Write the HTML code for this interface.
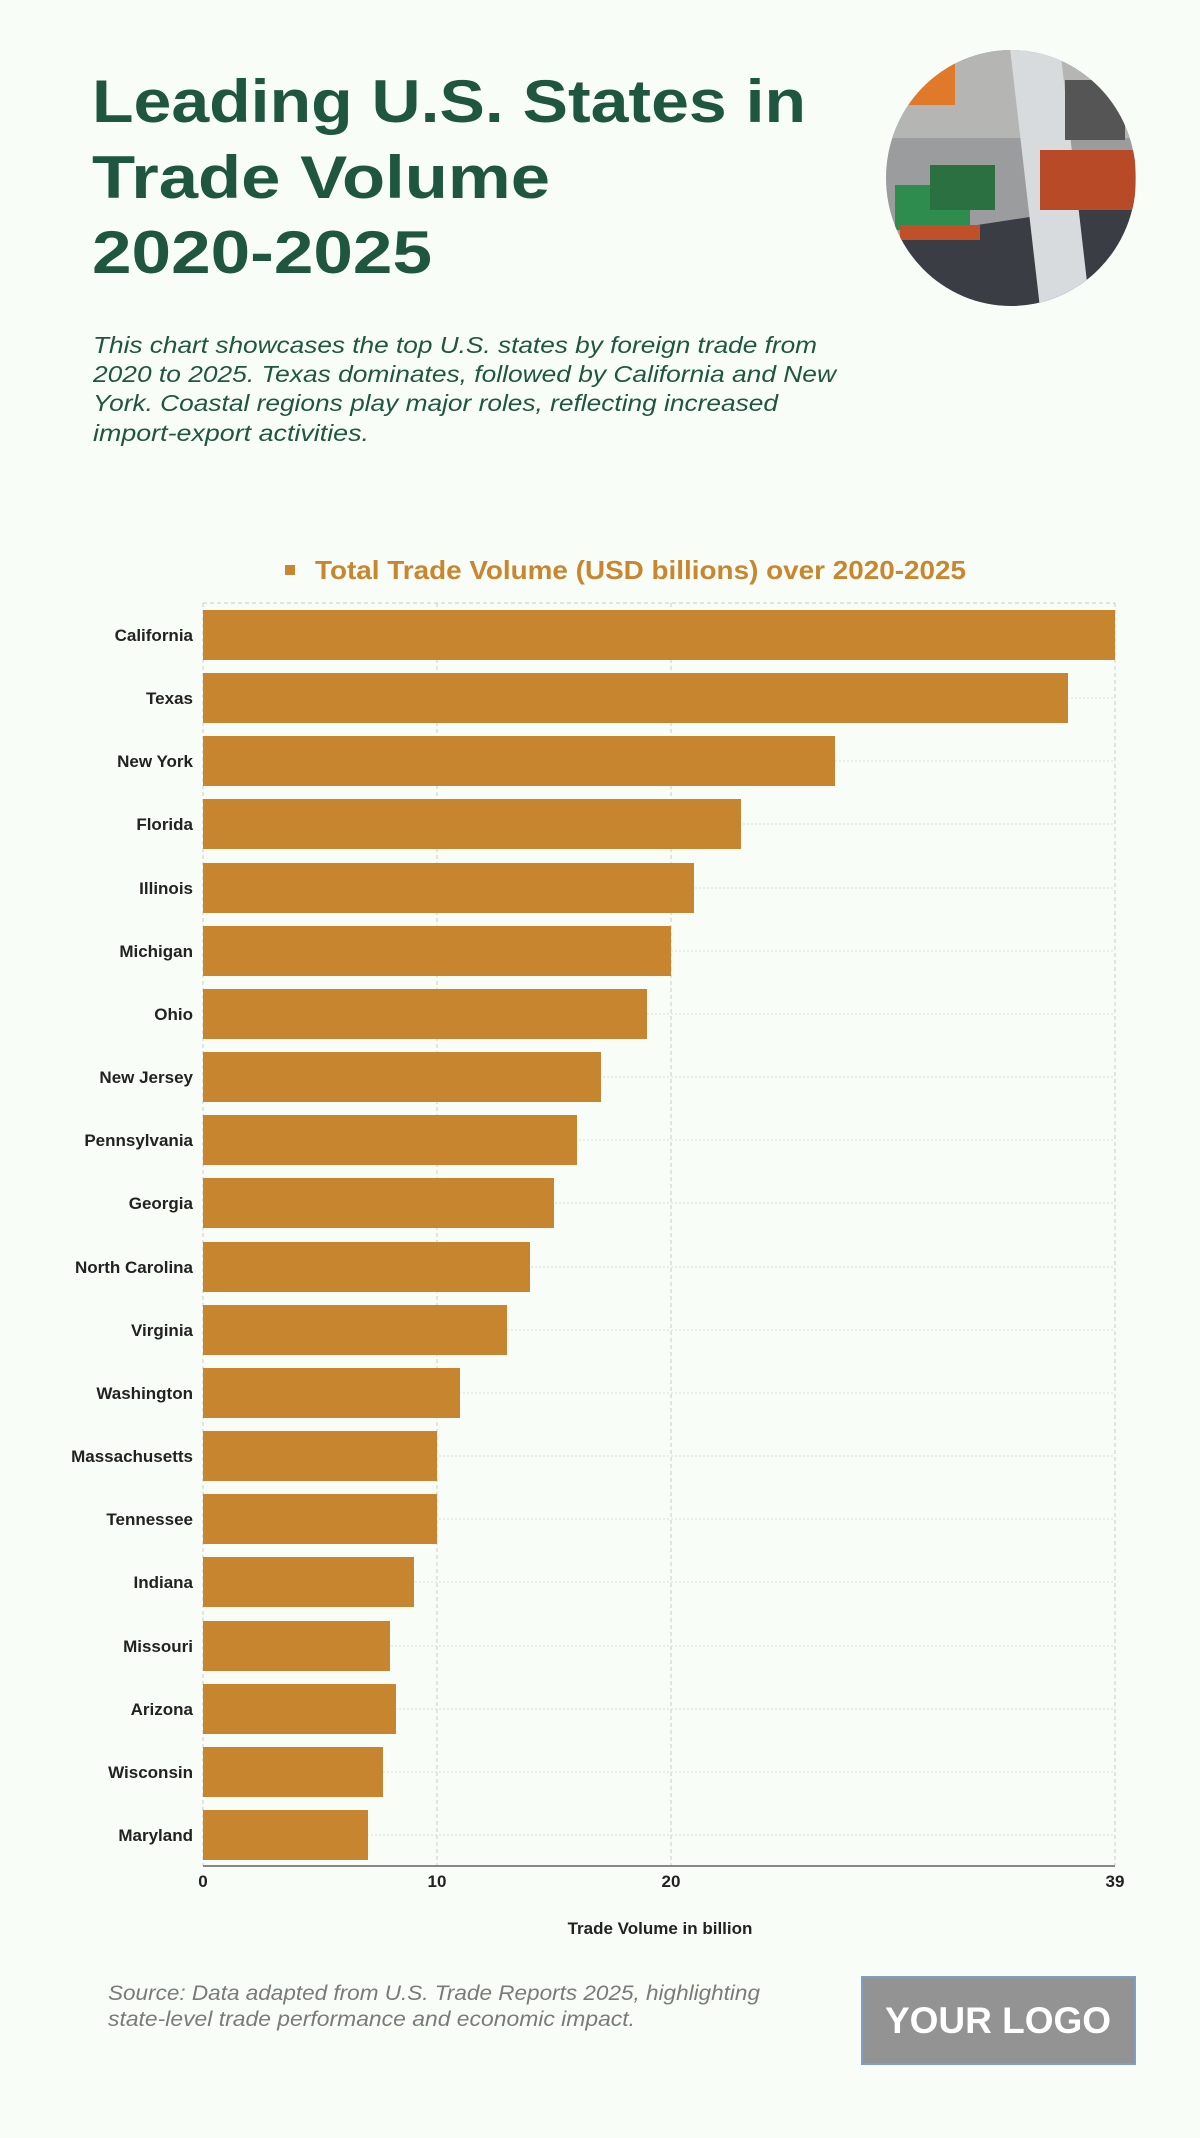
<!DOCTYPE html>
<html><head><meta charset="utf-8"><style>
body{margin:0;width:1200px;height:2133px;background:#f9fdf7;overflow:hidden;font-family:"Liberation Sans",sans-serif}
</style></head><body>
<svg width="1200" height="2133" xmlns="http://www.w3.org/2000/svg">
<rect width="1200" height="2133" fill="#f9fdf7"/>
<g font-family="Liberation Sans, sans-serif" font-weight="bold" fill="#1f5640" font-size="60" lengthAdjust="spacingAndGlyphs">
<text x="92" y="122" textLength="714" lengthAdjust="spacingAndGlyphs">Leading U.S. States in</text>
<text x="92" y="198" textLength="458" lengthAdjust="spacingAndGlyphs">Trade Volume</text>
<text x="92" y="273" textLength="340" lengthAdjust="spacingAndGlyphs">2020-2025</text>
</g>
<g font-family="Liberation Sans, sans-serif" font-style="italic" fill="#1f5640" font-size="23">
<text x="93" y="353" textLength="724" lengthAdjust="spacingAndGlyphs">This chart showcases the top U.S. states by foreign trade from</text>
<text x="93" y="382" textLength="743" lengthAdjust="spacingAndGlyphs">2020 to 2025. Texas dominates, followed by California and New</text>
<text x="93" y="411" textLength="685" lengthAdjust="spacingAndGlyphs">York. Coastal regions play major roles, reflecting increased</text>
<text x="93" y="441" textLength="276" lengthAdjust="spacingAndGlyphs">import-export activities.</text>
</g>
<defs><clipPath id="c"><ellipse cx="1011" cy="178" rx="125" ry="128"/></clipPath></defs>
<g clip-path="url(#c)">
<rect x="880" y="48" width="260" height="260" fill="#9a9c9e"/>
<rect x="880" y="48" width="260" height="90" fill="#b5b6b3"/>
<polygon points="880,240 1140,200 1140,308 880,308" fill="#3a3d44"/>
<rect x="905" y="60" width="50" height="45" fill="#e07a2a"/>
<polygon points="1010,48 1060,48 1090,308 1040,308" fill="#d8dbde"/>
<rect x="895" y="185" width="75" height="45" fill="#2e8c4f"/>
<rect x="930" y="165" width="65" height="45" fill="#2a7040"/>
<rect x="900" y="225" width="80" height="15" fill="#c0502a"/>
<rect x="1040" y="150" width="95" height="60" fill="#b84a28"/>
<rect x="1065" y="80" width="60" height="60" fill="#555"/>
</g>
<rect x="285" y="565" width="10" height="10" fill="#c8862f"/>
<text x="315" y="579" font-size="26" font-weight="bold" fill="#c8862f" textLength="651" lengthAdjust="spacingAndGlyphs">Total Trade Volume (USD billions) over 2020-2025</text>
<g stroke="#ccc" stroke-width="1" stroke-dasharray="4,3" fill="none">
<line x1="203" y1="603" x2="1115" y2="603"/>
<line x1="203" y1="603" x2="203" y2="1866"/>
<line x1="437" y1="603" x2="437" y2="1866"/>
<line x1="671" y1="603" x2="671" y2="1866"/>
<line x1="1115" y1="603" x2="1115" y2="1866"/>
</g>
<line x1="203" y1="1866" x2="1115" y2="1866" stroke="#888" stroke-width="2"/>
<g font-size="17" font-weight="bold" fill="#222" text-anchor="middle">
<text x="203" y="1887">0</text><text x="437" y="1887">10</text><text x="671" y="1887">20</text><text x="1115" y="1887">39</text>
<text x="660" y="1934" font-size="17">Trade Volume in billion</text>
</g>
<g font-style="italic" fill="#7a7a7a" font-size="21">
<text x="108" y="2000" textLength="652" lengthAdjust="spacingAndGlyphs">Source: Data adapted from U.S. Trade Reports 2025, highlighting</text>
<text x="108" y="2026" textLength="527" lengthAdjust="spacingAndGlyphs">state-level trade performance and economic impact.</text>
</g>
<rect x="862" y="1977" width="273" height="87" fill="#939393" stroke="#7aa0c8" stroke-width="2"/>
<text x="998" y="2033" text-anchor="middle" font-size="37" font-weight="bold" fill="#fff">YOUR LOGO</text>
<g font-size="17" font-weight="bold" fill="#222" text-anchor="end">
<line x1="203" y1="635" x2="1115" y2="635" stroke="#ddd" stroke-dasharray="2,2"/>
<rect x="203" y="610" width="912" height="50" fill="#c8852f"/><text x="193" y="641">California</text>
<line x1="203" y1="698" x2="1115" y2="698" stroke="#ddd" stroke-dasharray="2,2"/>
<rect x="203" y="673" width="865" height="50" fill="#c8852f"/><text x="193" y="704">Texas</text>
<line x1="203" y1="761" x2="1115" y2="761" stroke="#ddd" stroke-dasharray="2,2"/>
<rect x="203" y="736" width="632" height="50" fill="#c8852f"/><text x="193" y="767">New York</text>
<line x1="203" y1="824" x2="1115" y2="824" stroke="#ddd" stroke-dasharray="2,2"/>
<rect x="203" y="799" width="538" height="50" fill="#c8852f"/><text x="193" y="830">Florida</text>
<line x1="203" y1="888" x2="1115" y2="888" stroke="#ddd" stroke-dasharray="2,2"/>
<rect x="203" y="863" width="491" height="50" fill="#c8852f"/><text x="193" y="894">Illinois</text>
<line x1="203" y1="951" x2="1115" y2="951" stroke="#ddd" stroke-dasharray="2,2"/>
<rect x="203" y="926" width="468" height="50" fill="#c8852f"/><text x="193" y="957">Michigan</text>
<line x1="203" y1="1014" x2="1115" y2="1014" stroke="#ddd" stroke-dasharray="2,2"/>
<rect x="203" y="989" width="444" height="50" fill="#c8852f"/><text x="193" y="1020">Ohio</text>
<line x1="203" y1="1077" x2="1115" y2="1077" stroke="#ddd" stroke-dasharray="2,2"/>
<rect x="203" y="1052" width="398" height="50" fill="#c8852f"/><text x="193" y="1083">New Jersey</text>
<line x1="203" y1="1140" x2="1115" y2="1140" stroke="#ddd" stroke-dasharray="2,2"/>
<rect x="203" y="1115" width="374" height="50" fill="#c8852f"/><text x="193" y="1146">Pennsylvania</text>
<line x1="203" y1="1203" x2="1115" y2="1203" stroke="#ddd" stroke-dasharray="2,2"/>
<rect x="203" y="1178" width="351" height="50" fill="#c8852f"/><text x="193" y="1209">Georgia</text>
<line x1="203" y1="1267" x2="1115" y2="1267" stroke="#ddd" stroke-dasharray="2,2"/>
<rect x="203" y="1242" width="327" height="50" fill="#c8852f"/><text x="193" y="1273">North Carolina</text>
<line x1="203" y1="1330" x2="1115" y2="1330" stroke="#ddd" stroke-dasharray="2,2"/>
<rect x="203" y="1305" width="304" height="50" fill="#c8852f"/><text x="193" y="1336">Virginia</text>
<line x1="203" y1="1393" x2="1115" y2="1393" stroke="#ddd" stroke-dasharray="2,2"/>
<rect x="203" y="1368" width="257" height="50" fill="#c8852f"/><text x="193" y="1399">Washington</text>
<line x1="203" y1="1456" x2="1115" y2="1456" stroke="#ddd" stroke-dasharray="2,2"/>
<rect x="203" y="1431" width="234" height="50" fill="#c8852f"/><text x="193" y="1462">Massachusetts</text>
<line x1="203" y1="1519" x2="1115" y2="1519" stroke="#ddd" stroke-dasharray="2,2"/>
<rect x="203" y="1494" width="234" height="50" fill="#c8852f"/><text x="193" y="1525">Tennessee</text>
<line x1="203" y1="1582" x2="1115" y2="1582" stroke="#ddd" stroke-dasharray="2,2"/>
<rect x="203" y="1557" width="211" height="50" fill="#c8852f"/><text x="193" y="1588">Indiana</text>
<line x1="203" y1="1646" x2="1115" y2="1646" stroke="#ddd" stroke-dasharray="2,2"/>
<rect x="203" y="1621" width="187" height="50" fill="#c8852f"/><text x="193" y="1652">Missouri</text>
<line x1="203" y1="1709" x2="1115" y2="1709" stroke="#ddd" stroke-dasharray="2,2"/>
<rect x="203" y="1684" width="193" height="50" fill="#c8852f"/><text x="193" y="1715">Arizona</text>
<line x1="203" y1="1772" x2="1115" y2="1772" stroke="#ddd" stroke-dasharray="2,2"/>
<rect x="203" y="1747" width="180" height="50" fill="#c8852f"/><text x="193" y="1778">Wisconsin</text>
<line x1="203" y1="1835" x2="1115" y2="1835" stroke="#ddd" stroke-dasharray="2,2"/>
<rect x="203" y="1810" width="165" height="50" fill="#c8852f"/><text x="193" y="1841">Maryland</text>
</g>
</svg>
</body></html>
